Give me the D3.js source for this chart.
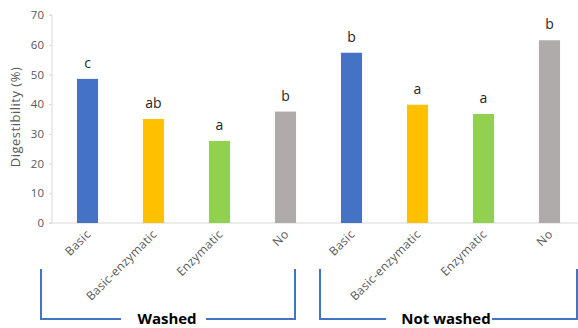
<!DOCTYPE html>
<html>
<head>
<meta charset="utf-8">
<script src="https://cdn.jsdelivr.net/npm/d3@7"></script>
<style>
	body { margin: 0; background: #fff; }
	svg { display: block; font-family: "Open Sans", sans-serif; }
</style>
</head>
<body>
<script>
// data
let categories = ['Basic', 'Basic-enzymatic', 'Enzymatic', 'No', 'Basic', 'Basic-enzymatic', 'Enzymatic', 'No']
let values = [48.5, 35.0, 27.6, 37.5, 57.3, 39.8, 36.7, 61.5]
let letters = ['c', 'ab', 'a', 'b', 'b', 'a', 'a', 'b']
let colors = ['#4472C4', '#FFC000', '#92D050', '#AFABAB', '#4472C4', '#FFC000', '#92D050', '#AFABAB']
let groups = ['Washed', 'Not washed']
let yTicks = [0, 10, 20, 30, 40, 50, 60, 70]

let W = 578, H = 328
let svg = d3.select('body').append('svg').attr('width', W).attr('height', H)

let x = d3.scaleBand()
	.domain(d3.range(categories.length))
	.range([54.5, 582.5])
	.paddingInner(0.68).paddingOuter(0.34)
let y = d3.scaleLinear().domain([0, 70]).range([223, 15])

// y axis
let yAxis = svg.append('g').attr('transform', 'translate(52,0)')
	.call(d3.axisLeft(y).tickValues(yTicks).tickSize(3).tickPadding(5))
yAxis.select('.domain').attr('stroke', '#D9D9D9').attr('d', `M-3,${y(70)}H0V${y(0)}`)
yAxis.selectAll('.tick line').attr('stroke', '#D9D9D9')
yAxis.selectAll('.tick text').attr('fill', '#595959').style('font-size', '11.5px')
	.style('font-family', '"Open Sans", sans-serif')

// baseline
svg.append('line')
	.attr('x1', 49).attr('x2', W)
	.attr('y1', y(0)).attr('y2', y(0))
	.attr('stroke', '#D9D9D9').attr('stroke-width', 1)

svg.append('text')
	.attr('transform', `translate(15,${(y(0) + y(70)) / 2 - 2}) rotate(-90)`)
	.attr('text-anchor', 'middle').attr('dy', '0.35em')
	.attr('fill', '#595959').style('font-size', '13px').style('letter-spacing', '0.5px')
	.text('Digestibility (%)')

// bars
svg.selectAll('rect.bar').data(values).enter().append('rect')
	.attr('class', 'bar')
	.attr('x', (d, i) => x(i)).attr('width', x.bandwidth())
	.attr('y', d => y(d)).attr('height', d => y(0) - y(d))
	.attr('fill', (d, i) => colors[i])

// significance letters
svg.selectAll('text.letter').data(values).enter().append('text')
	.attr('class', 'letter')
	.attr('x', (d, i) => x(i) + x.bandwidth() / 2)
	.attr('y', d => y(d) - 11)
	.attr('text-anchor', 'middle')
	.attr('fill', '#262626').style('font-size', '14px')
	.text((d, i) => letters[i])

// category labels
svg.selectAll('text.cat').data(categories).enter().append('text')
	.attr('class', 'cat')
	.attr('transform', (d, i) => `translate(${x(i) + x.bandwidth() / 2 + 4},235) rotate(-45)`)
	.attr('text-anchor', 'end')
	.attr('fill', '#595959').style('font-size', '12px').style('letter-spacing', '0.3px')
	.text(d => d)

// group brackets
let brackets = [
	{x0: 41, x1: 295, gap0: 121, gap1: 206, tx: 167},
	{x0: 320, x1: 577, gap0: 386, gap1: 492, tx: 446}
]
let by0 = 269, by1 = 319
brackets.forEach((b, i) => {
	let path = `M${b.x0},${by0}V${by1}H${b.gap0}M${b.gap1},${by1}H${b.x1}V${by0}`
	svg.append('path').attr('d', path)
		.attr('fill', 'none').attr('stroke', '#4472C4').attr('stroke-width', 2)
	svg.append('text')
		.attr('x', b.tx).attr('y', 324)
		.attr('text-anchor', 'middle')
		.attr('fill', '#000').style('font-size', '15px').style('font-weight', 'bold')
		.text(groups[i])
})
</script>
</body>
</html>
